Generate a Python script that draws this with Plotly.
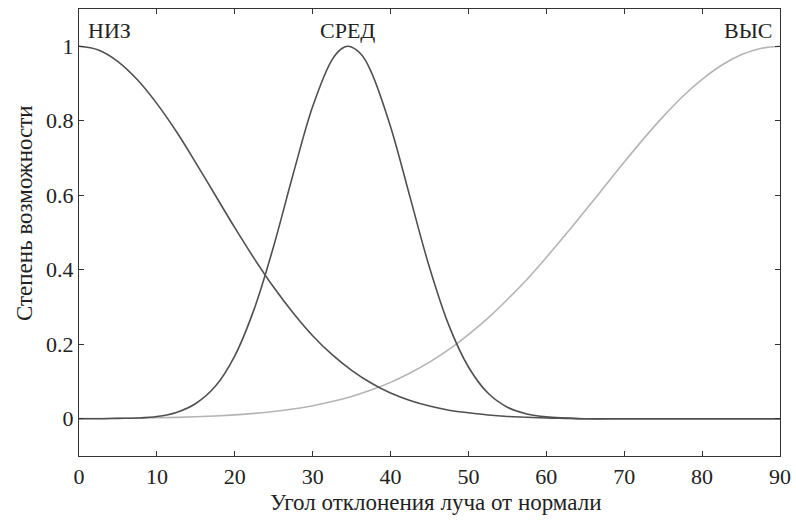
import plotly.graph_objects as go

angle = [0, 2.5, 5, 7.5, 10, 12.5, 15, 17.5, 20, 22.5, 25, 27.5, 30, 32.5, 35, 37.5,
         40, 42.5, 45, 47.5, 50, 52.5, 55, 57.5, 60, 62.5, 65, 67.5, 70, 72.5, 75,
         77.5, 80, 82.5, 85, 87.5, 90]

low = [1.000, 0.990, 0.959, 0.910, 0.846, 0.771, 0.687, 0.600, 0.513, 0.430, 0.353,
       0.284, 0.223, 0.172, 0.130, 0.096, 0.069, 0.049, 0.034, 0.023, 0.016, 0.010,
       0.006, 0.004, 0.002, 0.001, 0, 0, 0, 0, 0, 0, 0, 0, 0, 0, 0]

mid_angle = [0, 2.5, 5, 7.5, 10, 12.5, 15, 17.5, 20, 22.5, 25, 27.5, 30, 32.5, 33.75,
             34.6, 36.25, 37.5, 40, 42.5, 45, 47.5, 50, 52.5, 55, 57.5, 60, 62.5, 65,
             70, 80, 90]
mid = [0, 0, 0.001, 0.002, 0.006, 0.017, 0.041, 0.087, 0.169, 0.295, 0.464, 0.657,
       0.838, 0.964, 0.994, 1.000, 0.978, 0.932, 0.784, 0.595, 0.406, 0.250, 0.139,
       0.069, 0.031, 0.013, 0.005, 0.002, 0, 0, 0, 0]

high = [0.0005, 0.0008, 0.0012, 0.0018, 0.0026, 0.0037, 0.0053, 0.0075, 0.0105, 0.0144,
        0.0196, 0.0264, 0.0351, 0.0462, 0.0600, 0.0770, 0.0977, 0.1226, 0.152, 0.186,
        0.226, 0.270, 0.320, 0.374, 0.433, 0.495, 0.559, 0.624, 0.689, 0.752, 0.811,
        0.865, 0.911, 0.949, 0.977, 0.994, 1.000]

labels = ["НИЗ", "СРЕД", "ВЫС"]
label_x = [0.9, 34.5, 89.35]
label_y = [1.042, 1.042, 1.042]
label_anchor = ["left", "center", "right"]

x_title = "Угол отклонения луча от нормали"
y_title = "Степень возможности"

x_ticks = [0, 10, 20, 30, 40, 50, 60, 70, 80, 90]
y_ticks = [0, 0.2, 0.4, 0.6, 0.8, 1]
y_tick_text = ["0", "0.2", "0.4", "0.6", "0.8", "1"]

FONT = "Liberation Serif, Times New Roman, serif"
LINE = dict(width=1.6, shape="spline", smoothing=1.0)
INK = "#222222"

fig = go.Figure()
fig.add_trace(go.Scatter(x=angle, y=high, mode="lines", line=dict(color="#b4b4b4", **LINE), hoverinfo="skip"))
fig.add_trace(go.Scatter(x=angle, y=low, mode="lines", line=dict(color="#505050", **LINE), hoverinfo="skip"))
fig.add_trace(go.Scatter(x=mid_angle, y=mid, mode="lines", line=dict(color="#505050", **LINE), hoverinfo="skip"))

for t, lx, ly, an in zip(labels, label_x, label_y, label_anchor):
    fig.add_annotation(x=lx, y=ly, text=t, showarrow=False, xanchor=an, yanchor="middle",
                       font=dict(family=FONT, size=22, color=INK))

# axis titles as annotations (placed as in the reference)
fig.add_annotation(xref="paper", yref="paper", x=0.508, y=-0.103, text=x_title,
                   showarrow=False, xanchor="center", yanchor="middle",
                   font=dict(family=FONT, size=23, color=INK))
fig.add_annotation(xref="paper", yref="paper", x=-0.0785, y=0.5436, text=y_title,
                   textangle=-90, showarrow=False, xanchor="center", yanchor="middle",
                   font=dict(family=FONT, size=23, color=INK))

fig.update_layout(
    width=796, height=522,
    margin=dict(l=79, r=16, t=9, b=66),
    paper_bgcolor="white", plot_bgcolor="white",
    showlegend=False,
    font=dict(family=FONT, size=22, color=INK),
)
fig.update_xaxes(
    range=[0, 90], tickvals=x_ticks, ticks="inside", ticklen=5, tickcolor="#333333",
    showline=True, linecolor="#333333", linewidth=1.2, mirror="ticks", showgrid=False,
    zeroline=False, tickfont=dict(family=FONT, size=22), automargin=False,
)
fig.update_yaxes(
    range=[-0.1, 1.1], tickvals=y_ticks, ticktext=y_tick_text, ticks="inside", ticklen=5,
    tickcolor="#333333", showline=True, linecolor="#333333", linewidth=1.2, mirror="ticks",
    showgrid=False, zeroline=False, tickfont=dict(family=FONT, size=22), automargin=False,
)

fig.write_html(
    "out.html",
    config={"displayModeBar": False},
    post_script="document.body.style.margin='0';document.body.style.overflow='hidden';",
)
